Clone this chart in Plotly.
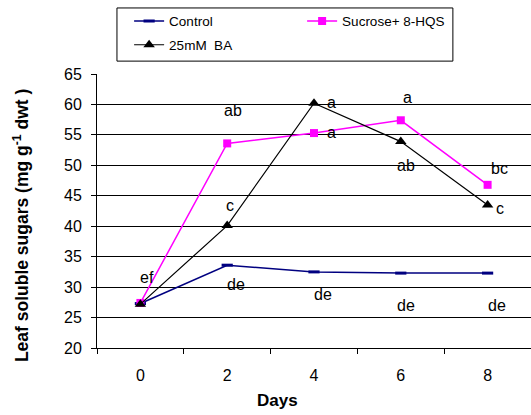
import plotly.graph_objects as go

days = ["0", "2", "4", "6", "8"]
control = [27.3, 33.6, 32.5, 32.3, 32.3]
sucrose = [27.4, 53.6, 55.3, 57.4, 46.8]
ba = [27.2, 40.1, 60.2, 53.9, 43.5]

label_text = ["ef", "ab", "c", "de", "a", "a", "de", "a", "ab", "de", "bc", "c", "de"]
label_x = [0.08, 1.07, 1.03, 1.10, 2.20, 2.20, 2.10, 3.08, 3.06, 3.06, 4.14, 4.14, 4.11]
label_y = [31.5, 59.0, 43.4, 30.5, 60.3, 55.4, 28.8, 61.1, 49.9, 26.9, 49.4, 42.9, 26.9]

FONT = "Liberation Sans, Arial, sans-serif"

fig = go.Figure()
fig.add_trace(go.Scatter(
    x=days, y=control, name="Control", mode="lines+markers",
    line=dict(color="#000080", width=1.5),
    marker=dict(symbol="line-ew", size=8, line=dict(color="#000080", width=3)),
    legend="legend",
))
fig.add_trace(go.Scatter(
    x=days, y=sucrose, name="Sucrose+ 8-HQS", mode="lines+markers",
    line=dict(color="#FF00FF", width=1.5),
    marker=dict(symbol="square", size=8, color="#FF00FF"),
    legend="legend",
))
fig.add_trace(go.Scatter(
    x=days, y=ba, name="25mM  BA", mode="lines+markers",
    line=dict(color="#000000", width=1.2),
    marker=dict(symbol="triangle-up", size=10, color="#000000"),
    legend="legend2",
))

for t, x, y in zip(label_text, label_x, label_y):
    fig.add_annotation(x=x, y=y, text=t, showarrow=False,
                       font=dict(family=FONT, size=16, color="black"))

fig.add_annotation(xref="paper", yref="paper", x=-0.205, y=0.445,
                   text="<b>Leaf soluble sugars (mg g<sup>-1</sup> dwt )</b>",
                   textangle=-90, showarrow=False,
                   font=dict(family=FONT, size=17.5, color="black"))
fig.add_annotation(xref="paper", yref="paper", x=0.417, y=-0.235,
                   text="<b>Days</b>", showarrow=False,
                   font=dict(family=FONT, size=17, color="black"))

# legend frame
fig.add_shape(type="rect", xref="paper", yref="paper",
              x0=0.046, x1=0.820, y0=1.047, y1=1.241,
              line=dict(color="black", width=1), fillcolor="rgba(0,0,0,0)")

leg_common = dict(
    orientation="h", xanchor="left", yanchor="middle",
    borderwidth=0, bgcolor="rgba(0,0,0,0)",
    entrywidth=128, entrywidthmode="pixels",
    font=dict(family=FONT, size=13.5, color="black"),
)

fig.update_layout(
    width=531, height=415,
    margin=dict(l=97, r=0, t=74, b=67, autoexpand=False),
    paper_bgcolor="white", plot_bgcolor="white",
    font=dict(family=FONT, size=16, color="black"),
    showlegend=True,
    legend=dict(x=0.074, y=1.193, **leg_common),
    legend2=dict(x=0.074, y=1.106, **leg_common),
    xaxis=dict(
        type="category", categoryorder="array", categoryarray=days,
        range=[-0.5, 4.5], showgrid=False, showline=True, linecolor="black",
        linewidth=1, ticks="outside", tickson="boundaries", ticklen=5,
        tickcolor="black", ticklabelstandoff=13, zeroline=False,
    ),
    yaxis=dict(
        range=[20, 65], dtick=5, tick0=20, showgrid=True, gridcolor="black",
        gridwidth=1, showline=True, linecolor="black", linewidth=1,
        ticks="outside", ticklen=5, tickcolor="black", ticklabelstandoff=6,
        zeroline=False,
    ),
)

fig.write_html("out.html", config={"displayModeBar": False},
               post_script="document.body.style.margin='0';")
